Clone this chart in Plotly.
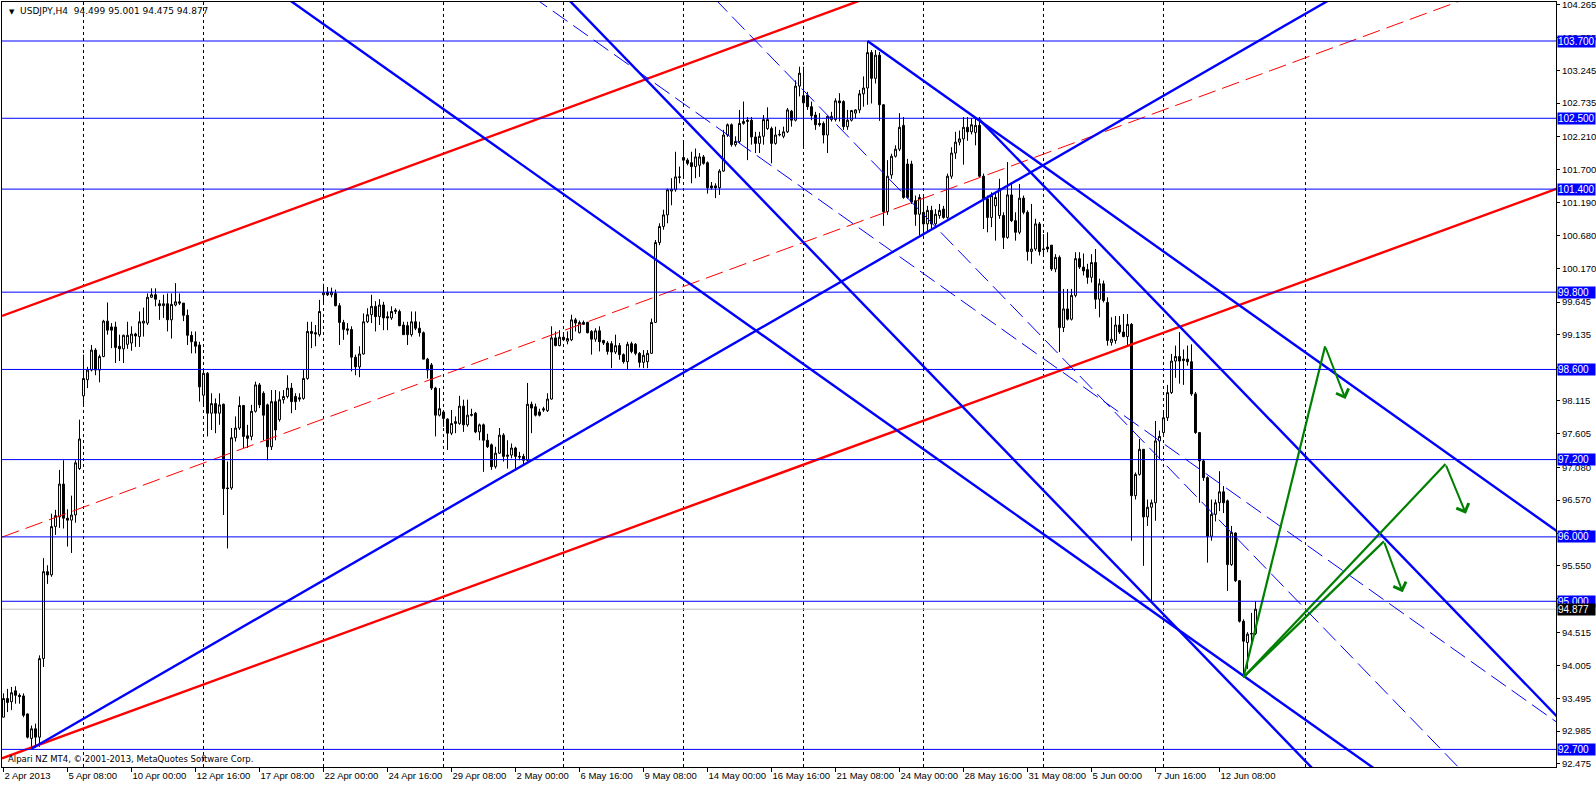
import plotly.graph_objects as go

# ---------------- data (bar index 0 = 2 Apr 2013 16:00, H4 bars) ----------------
opens = [93.20,93.49,93.44,93.61,93.54,93.53,93.25,92.87,93.02,92.89,
94.11,95.46,95.41,96.16,96.31,96.82,96.29,96.26,96.34,97.06,
98.19,98.44,98.59,98.90,98.59,98.80,99.35,99.26,99.26,98.96,
98.92,98.99,99.01,99.15,99.11,99.32,99.32,99.72,99.76,99.62,
99.59,99.62,99.37,99.60,99.65,99.63,99.44,99.13,99.03,98.98,
98.20,98.54,97.92,98.07,97.92,98.06,96.76,96.76,97.54,97.69,
98.04,97.57,97.56,97.95,98.36,98.23,98.05,97.40,98.10,97.82,
98.13,98.18,98.31,98.18,98.16,98.15,98.46,99.19,99.17,99.14,
99.76,99.80,99.76,99.78,99.59,99.33,99.23,99.22,98.79,98.64,
98.84,99.34,99.45,99.58,99.42,99.60,99.42,99.40,99.50,99.50,
99.29,99.28,99.14,99.34,99.24,99.17,98.76,98.67,98.31,97.89,
97.94,97.83,97.61,97.76,97.76,98.03,97.74,97.90,97.92,97.63,
97.74,97.50,97.43,97.09,97.30,97.58,97.25,97.27,97.38,97.25,
97.25,97.19,98.06,98.02,97.94,97.99,97.96,98.14,99.09,98.97,
99.10,99.04,99.06,99.37,99.17,99.33,99.33,99.19,99.07,99.20,
99.05,99.01,99.00,98.87,98.97,98.83,98.72,99.00,98.99,98.85,
98.71,98.72,98.85,99.33,100.57,100.82,101.00,101.37,101.39,101.58,
101.89,101.85,101.81,101.75,101.77,101.90,101.81,101.45,101.45,101.42,
101.68,102.24,102.40,102.09,102.14,102.42,102.45,102.47,102.21,102.11,
102.22,102.34,102.34,102.11,102.24,102.22,102.29,102.61,102.47,103.00,
102.85,102.86,102.68,102.55,102.42,102.42,102.24,102.48,102.48,102.77,
102.76,102.37,102.47,102.58,102.63,102.88,102.97,103.52,103.12,103.48,
102.71,101.05,101.62,101.91,102.02,102.39,101.79,101.79,101.22,101.01,
101.04,100.86,101.07,100.86,100.99,101.09,100.96,101.60,101.96,102.13,
102.18,102.36,102.29,102.28,102.39,101.60,101.25,100.96,101.14,100.99,
100.99,100.65,101.31,100.91,100.73,101.26,101.04,100.43,100.47,100.86,
100.46,100.50,100.53,100.16,100.34,99.25,99.54,99.38,99.75,100.32,
100.19,100.15,100.03,100.26,99.69,99.93,99.64,99.02,99.05,99.29,
99.18,99.11,99.30,96.64,96.97,97.36,96.31,96.46,96.53,97.49,
97.62,97.85,98.24,98.73,98.80,98.76,98.76,98.72,98.22,97.62,
97.18,96.92,96.01,96.35,96.53,96.70,96.56,95.57,96.06,95.32,
94.69,94.36,94.49,94.499]
highs = [93.57,93.64,93.67,93.68,93.57,93.57,93.26,93.07,93.10,94.16,
95.67,95.56,96.36,96.42,97.04,97.19,96.43,96.64,97.19,97.82,
98.83,98.64,98.98,98.93,98.83,99.37,99.64,99.32,99.34,99.14,
99.14,99.34,99.27,99.17,99.50,99.56,99.78,99.86,99.86,99.68,
99.76,99.78,99.78,99.94,99.78,99.63,99.53,99.19,99.19,99.03,
98.59,98.56,98.23,98.15,98.23,98.07,97.17,97.69,97.87,98.18,
98.05,97.74,98.05,98.41,98.39,98.26,98.07,98.28,98.28,98.26,
98.28,98.51,98.39,98.23,98.23,98.59,99.34,99.34,99.29,99.68,
99.93,99.88,99.87,99.84,99.63,99.37,99.32,99.27,98.83,98.96,
99.47,99.55,99.76,99.66,99.69,99.65,99.50,99.58,99.55,99.53,
99.34,99.34,99.50,99.50,99.34,99.19,98.78,98.70,98.33,98.31,
97.97,97.84,97.97,97.87,98.19,98.13,98.13,97.99,97.94,97.76,
97.76,97.60,97.45,97.40,97.69,97.61,97.50,97.45,97.40,97.32,
97.29,98.39,98.10,98.07,97.99,98.02,98.23,99.27,99.19,99.21,
99.14,99.19,99.45,99.40,99.36,99.36,99.34,99.21,99.24,99.27,
99.06,99.04,99.04,99.14,99.01,98.85,99.03,99.03,99.01,98.87,
98.90,98.90,99.39,100.61,100.87,101.08,101.41,101.57,101.98,101.75,
102.16,101.88,101.98,102.03,101.96,101.93,101.83,101.51,101.49,101.71,
102.32,102.42,102.42,102.22,102.63,102.76,102.52,102.52,102.29,102.29,
102.55,102.67,102.37,102.37,102.32,102.37,102.66,102.63,103.09,103.30,
103.30,102.91,102.76,102.60,102.58,102.45,102.54,102.60,102.81,102.89,
102.78,102.63,102.63,102.64,102.94,103.15,103.70,103.56,103.56,103.53,
102.72,101.85,101.95,102.08,102.58,102.52,101.87,101.84,101.30,101.32,
101.30,101.14,101.14,101.09,101.17,101.14,101.64,102.05,102.29,102.31,
102.52,102.52,102.50,102.49,102.52,101.64,101.30,101.35,101.35,101.56,
101.04,101.82,101.48,101.04,101.48,101.30,101.07,101.17,100.94,100.89,
100.70,100.73,100.53,100.39,100.37,99.85,99.85,99.85,100.42,100.42,
100.40,100.24,100.39,100.47,100.01,99.98,99.72,99.41,99.43,99.43,
99.46,99.46,99.32,97.00,97.52,97.36,96.58,96.58,97.80,97.65,
97.95,98.36,98.84,98.97,99.18,98.91,98.97,98.99,98.25,97.62,
97.21,96.94,96.58,96.58,97.02,96.79,96.58,96.17,96.07,95.33,
94.72,94.52,94.82,95.001]
lows = [93.20,93.28,93.31,93.41,93.41,93.20,92.87,92.71,92.73,92.74,
93.98,95.27,95.38,96.03,96.14,96.13,95.85,95.75,96.22,97.04,
98.02,98.31,98.57,98.51,98.40,98.79,99.14,98.93,98.70,98.73,
98.70,98.92,98.89,98.95,98.95,99.11,99.29,99.71,99.58,99.37,
99.40,99.19,99.08,99.58,99.60,99.35,98.98,98.85,98.85,98.10,
98.02,97.56,97.66,97.61,97.74,96.34,95.82,96.73,97.48,97.66,
97.38,97.38,97.50,97.93,98.00,97.50,97.19,97.35,97.50,97.79,
98.07,98.15,97.92,97.97,98.10,98.13,98.44,98.93,98.96,99.11,
99.60,99.74,99.72,99.58,98.98,99.06,99.14,98.57,98.51,98.48,
98.83,99.32,99.32,99.19,99.29,99.21,99.21,99.37,99.46,99.27,
99.14,98.98,99.11,99.21,99.11,98.76,98.46,98.28,97.56,97.87,
97.71,97.35,97.58,97.61,97.74,97.63,97.71,97.87,97.61,97.50,
97.01,97.38,97.04,97.06,97.29,97.17,97.06,97.22,97.06,97.19,
97.12,97.17,97.61,97.87,97.87,97.94,97.94,98.13,98.96,98.96,
99.04,98.99,99.04,99.19,99.16,99.30,99.16,98.83,99.03,98.88,
98.98,98.83,98.62,98.84,98.75,98.69,98.59,98.85,98.82,98.63,
98.62,98.62,98.84,99.32,100.53,100.77,100.87,101.15,101.36,101.49,
101.59,101.77,101.49,101.57,101.59,101.78,101.33,101.39,101.26,101.31,
101.67,102.21,102.06,102.06,102.11,102.40,101.85,102.09,101.96,101.96,
102.09,102.32,101.80,102.09,102.22,102.19,102.27,102.37,102.45,102.84,
102.03,102.63,102.47,102.32,102.37,102.11,101.96,102.45,102.45,102.45,
102.32,102.32,102.45,102.50,102.58,102.68,102.71,102.73,103.04,102.46,
100.83,101.00,101.56,101.89,101.99,101.25,101.25,101.17,100.83,100.68,
100.68,100.73,100.78,100.83,100.94,100.94,100.94,101.56,101.87,102.08,
101.78,102.15,102.25,102.08,101.58,100.78,100.73,100.81,100.60,100.94,
100.47,100.63,100.89,100.60,100.70,101.01,100.29,100.24,100.44,100.37,
100.39,100.42,100.13,100.11,98.87,99.18,99.36,99.36,99.72,100.16,
100.06,99.93,99.95,99.54,99.41,99.64,98.97,98.97,99.00,99.15,
99.10,98.97,95.94,96.58,96.95,95.55,96.17,95.00,96.25,97.21,
97.55,97.80,98.22,98.47,98.38,98.36,98.66,98.19,97.60,96.53,
96.87,95.60,95.94,96.24,96.40,96.37,95.16,95.55,95.30,94.67,
93.82,93.95,94.30,94.475]
closes = [93.49,93.43,93.58,93.54,93.52,93.23,92.89,93.02,92.89,94.11,
95.46,95.41,96.16,96.33,96.82,96.29,96.26,96.34,97.15,97.52,
98.46,98.59,98.90,98.59,98.80,99.35,99.21,99.21,98.94,98.92,
99.13,99.13,99.15,99.12,99.34,99.35,99.72,99.76,99.69,99.59,
99.62,99.37,99.61,99.65,99.63,99.44,99.13,99.03,98.96,98.33,
98.54,97.92,98.07,97.92,98.05,96.75,96.75,97.54,97.69,98.04,
97.56,97.53,97.95,98.36,98.05,97.89,97.40,98.10,97.66,98.13,
98.18,98.31,98.10,98.10,98.14,98.46,99.19,99.16,99.15,99.50,
99.79,99.76,99.80,99.59,99.33,99.22,99.21,98.79,98.64,98.84,
99.34,99.45,99.58,99.42,99.60,99.40,99.40,99.50,99.52,99.28,
99.14,99.14,99.34,99.24,99.17,98.76,98.59,98.31,97.89,97.99,
97.84,97.61,97.76,97.79,98.03,97.74,97.89,97.89,97.63,97.74,
97.50,97.40,97.09,97.30,97.58,97.25,97.27,97.38,97.25,97.24,
97.19,98.06,98.00,97.89,97.89,97.97,98.14,99.09,98.97,99.10,
99.06,99.08,99.37,99.32,99.33,99.30,99.17,99.07,99.20,99.03,
99.01,98.88,98.87,98.97,98.83,98.72,98.99,98.88,98.85,98.71,
98.82,98.85,99.33,100.57,100.82,101.00,101.39,101.40,101.59,101.59,
101.85,101.80,101.75,101.90,101.90,101.80,101.42,101.42,101.42,101.68,
102.24,102.40,102.09,102.14,102.42,102.45,102.47,102.21,102.11,102.22,
102.48,102.48,102.11,102.24,102.25,102.29,102.63,102.47,103.00,103.20,
102.74,102.68,102.54,102.40,102.40,102.24,102.53,102.53,102.77,102.74,
102.37,102.47,102.62,102.63,102.88,102.97,103.52,103.12,103.48,102.71,
101.05,101.60,101.91,102.02,102.36,101.27,101.27,101.20,101.01,101.27,
100.86,101.07,100.86,101.01,101.07,100.96,101.60,101.96,102.13,102.18,
102.36,102.29,102.40,102.39,101.60,101.25,100.96,101.30,101.27,101.41,
100.65,101.31,100.91,100.73,101.26,101.04,100.43,100.47,100.86,100.43,
100.47,100.47,100.16,100.34,99.25,99.54,99.38,99.75,100.32,100.19,
100.13,100.03,100.26,99.69,99.93,99.67,99.05,99.07,99.29,99.18,
99.11,99.30,96.64,96.97,97.36,96.31,96.46,96.53,97.49,97.56,
97.85,98.24,98.73,98.80,98.73,98.74,98.72,98.22,97.62,97.18,
96.92,96.01,96.35,96.53,96.70,96.53,95.57,96.07,95.32,94.69,
94.38,94.49,94.50,94.877]
bars = list(range(len(closes)))

date_tick_bars = [0, 16, 32, 48, 64, 80, 96, 112, 128, 144, 160, 176, 192, 208, 224, 240, 256, 272, 288, 304]
date_tick_text = ["2 Apr 2013", "5 Apr 08:00", "10 Apr 00:00", "12 Apr 16:00", "17 Apr 08:00",
                  "22 Apr 00:00", "24 Apr 16:00", "29 Apr 08:00", "2 May 00:00", "6 May 16:00",
                  "9 May 08:00", "14 May 00:00", "16 May 16:00", "21 May 08:00", "24 May 00:00",
                  "28 May 16:00", "31 May 08:00", "5 Jun 00:00", "7 Jun 16:00", "12 Jun 08:00"]
week_grid_bars = [20, 50, 80, 110, 140, 170, 200, 230, 260, 290, 325.5]

price_ticks = [104.265, 103.755, 103.245, 102.735, 102.210, 101.700, 101.190, 100.680, 100.170,
               99.645, 99.135, 98.625, 98.115, 97.605, 97.080, 96.570, 96.060, 95.550, 95.040,
               94.515, 94.005, 93.495, 92.985, 92.475]
level_prices = [103.7, 102.5, 101.4, 99.8, 98.6, 97.2, 96.0, 95.0, 92.7]
bid_price = 94.877

# trend lines: (bar1, price1, bar2, price2, extend_left)
red_upper = (30.875, 100.144, 194.1, 103.871, True)
red_median = (0.0, 96.005, 100.0, 98.289, True)
red_lower = (0.0, 92.570, 388.0, 101.400, True)
blue_lines = [
    (7.0, 92.71, 221.6, 100.40, False),     # rising support
    (159.1, 100.481, 209.1, 98.281, True),   # falling channel 1 lower
    (159.1, 103.198, 221.6, 99.186, True),   # falling channel 2 lower
    (216.0, 103.70, 388.1, 96.10, False),    # from 103.70 top
    (244.0, 102.48, 388.0, 93.235, False),   # from 102.50 top
]
blue_dashed = [
    (185.8, 103.844, 221.6, 101.546, True),
    (159.1, 103.208, 209.1, 101.008, True),
]
green_start = (310.0, 93.82)
green_peaks = [(330.4, 98.96), (360.5, 97.13), (345.1, 95.93)]
green_ends = [(335.5, 98.14), (365.6, 96.36), (349.8, 95.14)]

# ---------------- figure ----------------
X_MIN, X_MAX = -0.375, 388.125
Y_MIN, Y_MAX = 92.4267, 104.3056
FONT = "DejaVu Sans"
NUMFONT = "Liberation Sans"
BLUE = "#0000FF"
RED = "#FF0000"
GREEN = "#008000"

fig = go.Figure()

fig.add_trace(go.Candlestick(
    x=bars, open=opens, high=highs, low=lows, close=closes,
    increasing=dict(line=dict(color="black", width=1), fillcolor="white"),
    decreasing=dict(line=dict(color="black", width=1), fillcolor="black"),
    whiskerwidth=0, hoverinfo="skip", showlegend=False))


def add_line(spec, color, width, dash="solid"):
    b1, p1, b2, p2, ext_left = spec
    slope = (p2 - p1) / (b2 - b1)
    xl = X_MIN if ext_left else b1
    xr = X_MAX + 5
    fig.add_trace(go.Scatter(
        x=[xl, xr], y=[p1 + slope * (xl - b1), p1 + slope * (xr - b1)],
        mode="lines", line=dict(color=color, width=width, dash=dash),
        hoverinfo="skip", showlegend=False))


add_line(red_upper, RED, 2.4)
add_line(red_lower, RED, 2.4)
add_line(red_median, RED, 1, "18px,7px")
for spec in blue_lines:
    add_line(spec, BLUE, 2.4)
for spec in blue_dashed:
    add_line(spec, BLUE, 1, "18px,7px")

# green projected paths
for pk in green_peaks:
    fig.add_trace(go.Scatter(
        x=[green_start[0], pk[0]], y=[green_start[1], pk[1]],
        mode="lines", line=dict(color=GREEN, width=2.2),
        hoverinfo="skip", showlegend=False))
for pk, en in zip(green_peaks, green_ends):
    fig.add_annotation(x=en[0], y=en[1], ax=pk[0], ay=pk[1], xref="x", yref="y",
                       axref="x", ayref="y", showarrow=True, arrowhead=4,
                       arrowsize=1.3, arrowwidth=2, arrowcolor=GREEN, text="")

shapes = []
for b in week_grid_bars:
    shapes.append(dict(type="line", xref="x", yref="paper", x0=b, x1=b, y0=0, y1=1,
                       line=dict(color="black", width=1, dash="3px,3px"), layer="below"))
shapes.append(dict(type="line", xref="paper", yref="y", x0=0, x1=1, y0=bid_price, y1=bid_price,
                   line=dict(color="#C0C0C0", width=1), layer="below"))
for p in level_prices:
    shapes.append(dict(type="line", xref="paper", yref="y", x0=0, x1=1, y0=p, y1=p,
                       line=dict(color=BLUE, width=1), layer="above"))
fig.update_layout(shapes=shapes)

# price boxes on the right scale
for p in level_prices:
    fig.add_annotation(x=1, xref="paper", xanchor="left", xshift=1, y=p, yref="y",
                       text=f"{p:.3f}", showarrow=False, bgcolor=BLUE, borderpad=0,
                       width=37, align="left",
                       font=dict(family=NUMFONT, size=10, color="white"))
fig.add_annotation(x=1, xref="paper", xanchor="left", xshift=1, y=bid_price, yref="y",
                   text=f"{bid_price:.3f}", showarrow=False, bgcolor="black", borderpad=0,
                   width=37, align="left",
                   font=dict(family=NUMFONT, size=10, color="white"))

# header & footer text
fig.add_annotation(x=0, y=1, xref="paper", yref="paper", xanchor="left", yanchor="top",
                   xshift=5, yshift=-2, showarrow=False,
                   text="<span style='font-size:7px'>▼</span>  USDJPY,H4  94.499 95.001 94.475 94.877",
                   font=dict(family=FONT, size=9, color="black"))
fig.add_annotation(x=0, y=0, xref="paper", yref="paper", xanchor="left", yanchor="bottom",
                   xshift=4, yshift=1, showarrow=False,
                   text="Alpari NZ MT4, © 2001-2013, MetaQuotes Software Corp.",
                   font=dict(family=FONT, size=8.5, color="black"))

fig.update_layout(
    width=1596, height=785,
    margin=dict(l=2, r=40, t=2, b=18, pad=0),
    paper_bgcolor="white", plot_bgcolor="white",
    showlegend=False,
    font=dict(family=FONT, size=9, color="black"),
    xaxis=dict(range=[X_MIN, X_MAX], showgrid=False, zeroline=False, automargin=False,
               rangeslider=dict(visible=False),
               tickmode="array", tickvals=date_tick_bars, ticktext=date_tick_text,
               tickangle=0,
               ticks="outside", ticklen=4, tickcolor="black",
               ticklabelposition="outside right", ticklabeloverflow="allow",
               showline=True, linecolor="black", linewidth=1, mirror=True,
               tickfont=dict(family=NUMFONT, size=9.5, color="black")),
    yaxis=dict(range=[Y_MIN, Y_MAX], side="right", showgrid=False, zeroline=False,
               automargin=False,
               tickmode="array", tickvals=price_ticks,
               ticktext=[f"{v:.3f}" for v in price_ticks],
               ticks="outside", ticklen=3, tickcolor="black",
               ticklabeloverflow="allow",
               showline=True, linecolor="black", linewidth=1, mirror=True,
               tickfont=dict(family=NUMFONT, size=9.5, color="black")),
)

fig.write_html("out.html", config={"displayModeBar": False},
               post_script="document.body.style.margin='0px';document.body.style.overflow='hidden';")
